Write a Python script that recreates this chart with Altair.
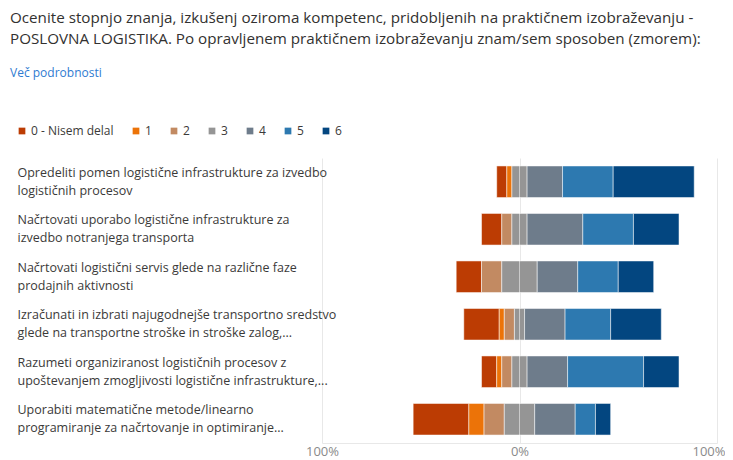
import altair as alt
import pandas as pd

# ---- data (counts of responses, n = 39 per statement) ----
line1 = [
    "Opredeliti pomen logistične infrastrukture za izvedbo",
    "Načrtovati uporabo logistične infrastrukture za",
    "Načrtovati logistični servis glede na različne faze",
    "Izračunati in izbrati najugodnejše transportno sredstvo",
    "Razumeti organiziranost logističnih procesov z",
    "Uporabiti matematične metode/linearno",
]
line2 = [
    "logističnih procesov",
    "izvedbo notranjega transporta",
    "prodajnih aktivnosti",
    "glede na transportne stroške in stroške zalog,...",
    "upoštevanjem zmogljivosti logistične infrastrukture,...",
    "programiranje za načrtovanje in optimiranje...",
]
levels = ["0 - Nisem delal", "1", "2", "3", "4", "5", "6"]
colors = ["#bc3c03", "#ec7308", "#c28a62", "#959595", "#6e7c8b", "#2d79b0", "#034680"]
c0 = [2, 4, 5, 7, 3, 11]
c1 = [1, 0, 0, 1, 1, 3]
c2 = [0, 2, 4, 2, 2, 4]
c3 = [3, 3, 7, 2, 3, 6]
c4 = [7, 11, 8, 8, 8, 8]
c5 = [10, 10, 8, 9, 15, 4]
c6 = [16, 9, 7, 10, 7, 3]
counts = [c0, c1, c2, c3, c4, c5, c6]

title_lines = [
    "Ocenite stopnjo znanja, izkušenj oziroma kompetenc, pridobljenih na praktičnem izobraževanju -",
    "POSLOVNA LOGISTIKA. Po opravljenem praktičnem izobraževanju znam/sem sposoben (zmorem):",
]
link_text = "Več podrobnosti"

FONT = "Segoe UI, Open Sans, sans-serif"

# ---- diverging stack (neutral "3" centred on 0) ----
rows = []
questions = [a + "|" + b for a, b in zip(line1, line2)]
for i, q in enumerate(questions):
    vals = [c[i] for c in counts]
    total = sum(vals)
    pct = [v / total * 100 for v in vals]
    start = -(pct[0] + pct[1] + pct[2] + pct[3] / 2)
    for k, lev in enumerate(levels):
        rows.append({"q": q, "level": lev, "order": k,
                     "x": start, "x2": start + pct[k], "pct": pct[k]})
        start += pct[k]
df = pd.DataFrame(rows)
df = df[df["pct"] > 0]

bars = alt.Chart(df).mark_bar(stroke="white", strokeWidth=1, strokeOpacity=0.5).encode(
    y=alt.Y("q:N", sort=questions,
            scale=alt.Scale(paddingInner=0.335, paddingOuter=0.1675),
            axis=alt.Axis(title=None, domain=False, ticks=False, grid=False,
                          labelAlign="left", labelPadding=305, labelLimit=320,
                          labelFontSize=12.5, labelColor="#3b3a39", labelFont=FONT,
                          labelLineHeight=18, labelBaseline="middle", labelOffset=-9,
                          labelExpr="split(datum.label, '|')")),
    x=alt.X("x:Q", scale=alt.Scale(domain=[-100, 100], nice=False),
            axis=alt.Axis(title=None, values=[-100, 0, 100], grid=True,
                          gridColor="#e8e8e8", domain=True, domainColor="#e8e8e8",
                          ticks=False, labelColor="#8a8a8a", labelFontSize=13,
                          labelFont=FONT, labelPadding=2, labelFlush=False,
                          labelAlign={"condition": {"test": "datum.value >= 100", "value": "right"},
                                      "value": "center"},
                          labelOffset={"condition": {"test": "datum.value >= 100", "value": 8},
                                       "value": 0},
                          labelExpr="abs(datum.value) + '%'")),
    x2="x2:Q",
    color=alt.Color("level:N", sort=levels,
                    scale=alt.Scale(domain=levels, range=colors),
                    legend=alt.Legend(title=None, orient="none", direction="horizontal",
                                      legendX=-306, legendY=-33, symbolType="square",
                                      symbolSize=45, symbolStrokeWidth=0,
                                      labelFontSize=12, labelColor="#3b3a39",
                                      labelFont=FONT, columnPadding=16, labelOffset=3,
                                      padding=0)),
    order=alt.Order("order:Q"),
)

zero = alt.Chart(pd.DataFrame({"z": [0]})).mark_rule(color="white", opacity=0.5).encode(
    x="z:Q"
)

chart = alt.layer(bars, zero).properties(
    width=395,
    height=285,
    autosize=alt.AutoSizeParams(type="none"),
    padding={"left": 314, "top": 150, "right": 8, "bottom": 15},
    title=alt.TitleParams(
        text=title_lines, subtitle=link_text, anchor="start", frame="group",
        dx=-312, font=FONT, fontSize=15.2, fontWeight="normal", color="#323130",
        lineHeight=21, subtitleFont=FONT, subtitleFontSize=12,
        subtitleColor="#2f7bd1", subtitlePadding=21, offset=46,
    ),
).configure_view(stroke=None)

chart.save("out.html", embed_options={"renderer": "svg", "actions": False})
